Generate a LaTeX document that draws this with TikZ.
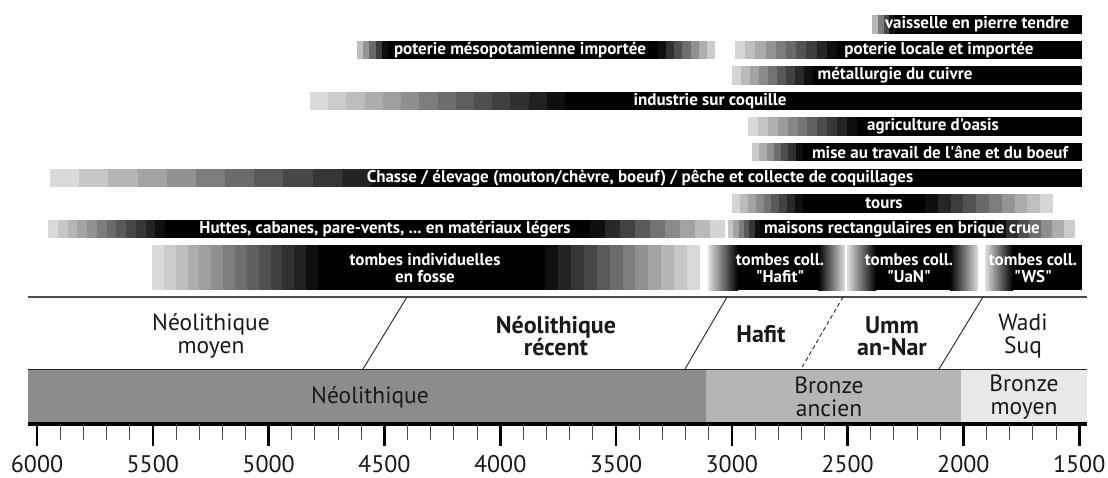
\documentclass[tikz,border=0pt]{standalone}
\usepackage{fontspec}
\setmainfont{PT Sans}
\newfontfamily\barfont{PT Sans}
\newcommand\ramp[5]{%
  \foreach \i in {1,...,#5}{%
    \pgfmathsetmacro\xa{#1+(#2-#1)*(\i-1)/#5}%
    \pgfmathsetmacro\pc{int(8+86*(\i/#5))}%
    \fill[black!\pc] (\xa,#3) rectangle (#2,#4);
  }}
\newcommand\yr[1]{37+(6000-#1)*0.2316}
\begin{document}
\begin{tikzpicture}[x=1pt,y=-1pt,
  bartext/.style={text=white,font=\barfont\bfseries\fontsize{17}{16.5}\selectfont,inner sep=0pt,align=center},
  phase/.style={font=\fontsize{23.5}{22.5}\selectfont,align=center,inner sep=0pt,text=black!90},
  phaseb/.style={phase,font=\bfseries\fontsize{24}{22.5}\selectfont},
  axlab/.style={font=\fontsize{24}{25}\selectfont,inner sep=0pt,text=black!90},
  divider/.style={draw=black!85,line width=0.9pt}]
\useasboundingbox (0,0) rectangle (1108,477);
\fill[white] (0,0) rectangle (1108,477);

% ---- row 0: vaisselle
\ramp{872}{895}{15}{33.5}{4}
\fill[black] (895,15) rectangle (1082,33.5);
\node[bartext] (vais) at (977,24.5) {vaisselle en pierre tendre};

% ---- row 1: poterie
\ramp{357}{388}{40.6}{59}{5}
\fill[black] (388,40.6) rectangle (658,59);
\ramp{715}{658}{40.6}{59}{7}
\node[bartext] (potm) at (520,50) {poterie mésopotamienne importée};
\ramp{735}{837}{40.6}{59}{10}
\fill[black] (837,40.6) rectangle (1082,59);
\node[bartext] (potl) at (939,50) {poterie locale et importée};

% ---- row 2: metallurgie
\ramp{732}{813}{66.2}{84.6}{9}
\fill[black] (813,66.2) rectangle (1082,84.6);
\node[bartext] (meta) at (895,75.5) {métallurgie du cuivre};

% ---- row 3: industrie
\ramp{310}{565}{91.8}{110.2}{14}
\fill[black] (565,91.8) rectangle (1082,110.2);
\node[bartext] (indu) at (710,101) {industrie sur coquille};

% ---- row 4: agriculture
\ramp{748}{857}{117.4}{135.8}{11}
\fill[black] (857,117.4) rectangle (1082,135.8);
\node[bartext] (agri) at (933,126.6) {agriculture d'oasis};

% ---- row 5: mise au travail
\ramp{752}{803}{143}{161.4}{7}
\fill[black] (803,143) rectangle (1082,161.4);
\node[bartext] (mise) at (940,152.2) {mise au travail de l'âne et du boeuf};

% ---- row 6: chasse
\ramp{50}{400}{168.6}{187}{12}
\fill[black] (400,168.6) rectangle (1082,187);
\node[bartext] (chas) at (640,177.8) {Chasse / élevage (mouton/chèvre, boeuf) / pêche et collecte de coquillages};

% ---- row 7: tours
\ramp{732}{803}{194.2}{212.6}{9}
\fill[black] (803,194.2) rectangle (925,212.6);
\ramp{1053}{925}{194.2}{212.6}{10}
\node[bartext] (tour) at (884,203.4) {tours};

% ---- row 8: huttes / maisons
\ramp{48}{165}{219.8}{238.2}{12}
\fill[black] (165,219.8) rectangle (590,238.2);
\ramp{725}{590}{219.8}{238.2}{9}
\node[bartext] (hutt) at (385,229) {Huttes, cabanes, pare-vents, ...\ en matériaux légers};
\ramp{728}{760}{219.8}{238.2}{6}
\fill[black] (760,219.8) rectangle (995,238.2);
\ramp{1075}{995}{219.8}{238.2}{7}
\node[bartext] (mais) at (902,229) {maisons rectangulaires en brique crue};

% ---- row 9: tombes
\ramp{152}{318}{245}{290}{14}
\fill[black] (318,245) rectangle (545,290);
\ramp{700}{545}{245}{290}{12}
\node[bartext] (tind) at (425,268) {tombes individuelles\\en fosse};
\shade[left color=black!12,right color=black] (708,245) rectangle (738,290);
\fill[black] (737.5,245) rectangle (818.5,290);
\shade[left color=black,right color=black!12] (818,245) rectangle (845,290);
\node[bartext] (thaf) at (780,268) {tombes coll.\\"Hafit"};
\shade[left color=black!12,right color=black] (847,245) rectangle (876,290);
\fill[black] (875.5,245) rectangle (950.5,290);
\shade[left color=black,right color=black!12] (950,245) rectangle (978,290);
\node[bartext] (tuan) at (909,268) {tombes coll.\\"UaN"};
\shade[left color=black!12,right color=black] (985,245) rectangle (1013,290);
\fill[black] (1012.5,245) rectangle (1082,290);
\node[bartext] (tws) at (1033,268) {tombes coll.\\"WS"};

% ---- phases band
\draw[black!70,line width=1.3pt] (28,297) -- (1087,297);
\fill[black!45] (28,369) rectangle (706,424);
\fill[black!29] (706,369) rectangle (961,424);
\fill[black!9] (961,369) rectangle (1087,424);
\draw[black!85,line width=0.9pt] (28,369) -- (1087,369);
\draw[divider] (407,297) -- (363,369);
\draw[divider] (727,297) -- (685,369);
\draw[divider,dashed,dash pattern=on 4pt off 3pt] (843,297) -- (801,369);
\draw[divider] (983,297) -- (939,369);

\node[phase] (nmoy) at (211,336) {Néolithique\\moyen};
\node[phaseb] (nrec) at (556,336) {Néolithique\\récent};
\node[phaseb] (hafit) at (761,334) {Hafit};
\node[phaseb] (uan) at (892,336) {Umm\\an-Nar};
\node[phase] (wsuq) at (1023,336) {Wadi\\Suq};

\node[phase] (neo) at (370,397) {Néolithique};
\node[phase] (bra) at (829,397) {Bronze\\ancien};
\node[phase] (brm) at (1024,397) {Bronze\\moyen};

% ---- axis
\draw[black,line width=3.5pt] (28,424) -- (1087,424);
\foreach \y in {5900,5800,...,1600}{%
  \pgfmathsetmacro\xx{\yr{\y}}
  \draw[black!70,line width=0.9pt] (\xx,424) -- (\xx,440);}
\foreach \y/\n in {6000/a,5500/b,5000/c,4500/d,4000/e,3500/f,3000/g,2500/h,2000/i,1500/j}{%
  \pgfmathsetmacro\xx{\yr{\y}}
  \draw[black,line width=2.6pt] (\xx,424) -- (\xx,446);
  \node[axlab] (lab\n) at (\xx,464) {\y};}
\end{tikzpicture}
\end{document}
